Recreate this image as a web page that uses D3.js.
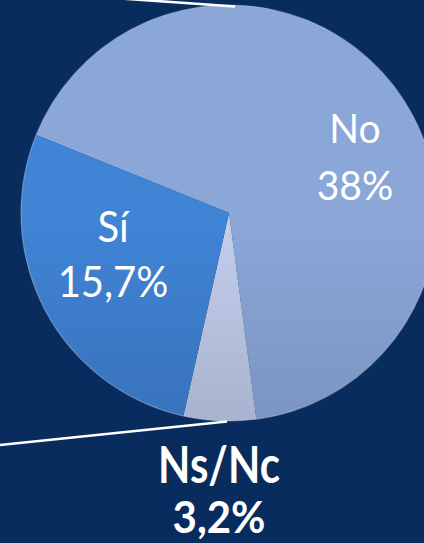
<!DOCTYPE html>
<html><head><meta charset="utf-8">
<script src="https://cdn.jsdelivr.net/npm/d3@7"></script>
<style>
html,body{margin:0;padding:0;background:#072c5d;}
svg{display:block;}
text{font-family:Lato,"Open Sans",sans-serif;fill:#fff;}
</style></head>
<body>
<svg id="chart" width="424" height="543"></svg>
<script>
// Data (secondary pie of a pie-of-pie chart), clockwise order
const categories = ["No", "Ns/Nc", "Sí"];
const values = [38, 3.2, 15.7];
const valueLabels = ["38%", "3,2%", "15,7%"];
const sliceTop = ["#8ba7d8", "#c3cfec", "#4084d6"];
const sliceBottom = ["#6b81aa", "#8a95b0", "#3160a0"];

const W = 424, H = 543;
const cx = 229, cy = 213, R = 208;
const svg = d3.select("#chart");
svg.append("rect").attr("width", W).attr("height", H).attr("fill", "#072c5d");

const defs = svg.append("defs");
categories.forEach((c, i) => {
  const g = defs.append("linearGradient").attr("id", "g" + i)
    .attr("gradientUnits", "userSpaceOnUse")
    .attr("x1", 0).attr("y1", cy - R).attr("x2", 0).attr("y2", cy + R);
  g.append("stop").attr("offset", "0%").attr("stop-color", sliceTop[i]);
  g.append("stop").attr("offset", "100%").attr("stop-color", sliceBottom[i]);
});

const start = 292 * Math.PI / 180;
const pie = d3.pie().sort(null).startAngle(start).endAngle(start + 2 * Math.PI);
const arcs = pie(values);
const arc = d3.arc().innerRadius(0).outerRadius(R);

const gp = svg.append("g").attr("transform", `translate(${cx},${cy})`);
gp.selectAll("path.slice").data(arcs).join("path")
  .attr("class", "slice")
  .attr("d", arc)
  .attr("fill", (d, i) => `url(#g${i})`);
gp.append("circle").attr("r", R).attr("fill", "none")
  .attr("stroke", "rgba(225,232,245,0.35)").attr("stroke-width", 1.2);

// connector lines of the pie-of-pie
svg.append("line").attr("x1", 0).attr("y1", -10).attr("x2", cx + 6).attr("y2", cy - R + 1.5)
  .attr("stroke", "#fff").attr("stroke-width", 2.6);
svg.append("line").attr("x1", 0).attr("y1", 445).attr("x2", cx - 2).attr("y2", cy + R + 0.5)
  .attr("stroke", "#fff").attr("stroke-width", 2.6);

// labels
const labelPos = {
  "No": {x: 355, y1: 143, y2: 200, size: 39, weight: 400, k1: 1.06, k2: 1.06},
  "Sí": {x: 113, y1: 242, y2: 297, size: 40, weight: 400, k1: 1.06, k2: 1.06},
  "Ns/Nc": {x: 219, y1: 483, y2: 533, size: 42, weight: 700, k1: 1.22, k2: 1.04}
};
categories.forEach((c, i) => {
  const p = labelPos[c];
  svg.append("text").attr("transform", `translate(${p.x},${p.y1}) scale(1,${p.k1})`)
    .attr("text-anchor", "middle").attr("font-size", p.size).attr("font-weight", p.weight)
    .text(c);
  svg.append("text").attr("transform", `translate(${p.x},${p.y2}) scale(1,${p.k2})`)
    .attr("text-anchor", "middle").attr("font-size", p.size).attr("font-weight", p.weight)
    .text(valueLabels[i]);
});
</script>
</body></html>
